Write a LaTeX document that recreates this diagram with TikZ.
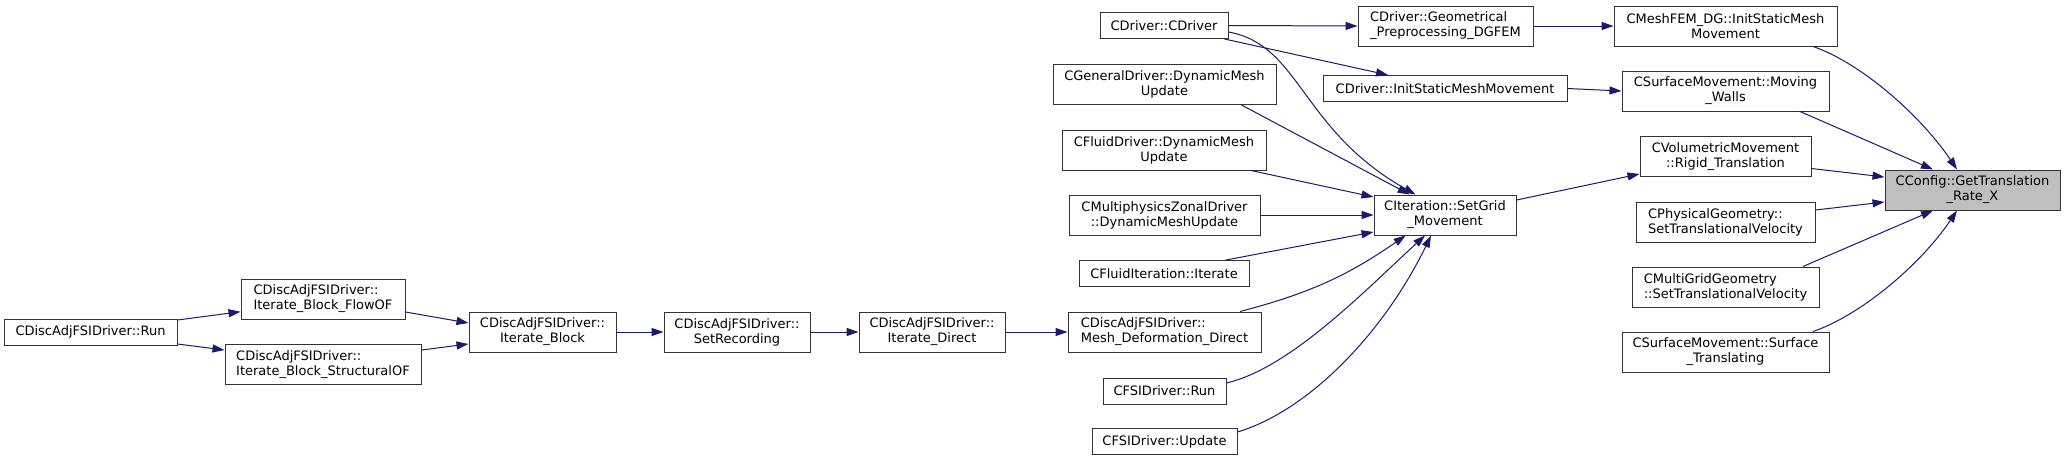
\documentclass[tikz,border=0pt]{standalone}
\usepackage{fontspec}
\setmainfont{DejaVu Sans}
\usetikzlibrary{arrows.meta}
\definecolor{edgecol}{HTML}{191970}
\definecolor{boxline}{HTML}{333333}
\definecolor{hilite}{HTML}{BFBFBF}
\begin{document}
\begin{tikzpicture}[x=1pt,y=-1pt,
  box/.style={draw=boxline, line width=1pt, fill=white, rectangle, inner sep=0pt,
    font=\fontsize{13}{15}\selectfont, text=black, align=center},
  lbox/.style={box, align=left},
  edge/.style={draw=edgecol, line width=1pt, -{Triangle[length=12pt,width=8pt]}},
]
\useasboundingbox (0,0) rectangle (2065,461);
\fill[white] (0,0) rectangle (2065,461);

% column 1-4 (left chain)
\node[box, minimum width=173pt, minimum height=26pt] (runAdj) at (90.5,332) {CDiscAdjFSIDriver::Run};
\node[lbox, minimum width=164pt, minimum height=40pt] (flowOF) at (323,299) {CDiscAdjFSIDriver::\\Iterate\_Block\_FlowOF};
\node[lbox, minimum width=196pt, minimum height=40pt] (structOF) at (323,364.5) {CDiscAdjFSIDriver::\\Iterate\_Block\_StructuralOF};
\node[box, minimum width=147pt, minimum height=40pt] (iterBlock) at (542.5,332) {CDiscAdjFSIDriver::\\Iterate\_Block};
\node[box, minimum width=146pt, minimum height=40pt] (setRec) at (737,332) {CDiscAdjFSIDriver::\\SetRecording};
\node[box, minimum width=146pt, minimum height=40pt] (iterDirect) at (932,332) {CDiscAdjFSIDriver::\\Iterate\_Direct};

% column of callers of SetGrid_Movement
\node[box, minimum width=128pt, minimum height=26pt] (cdriver) at (1164,25.5) {CDriver::CDriver};
\node[box, minimum width=223pt, minimum height=40pt] (general) at (1164.5,84.5) {CGeneralDriver::DynamicMesh\\Update};
\node[box, minimum width=204pt, minimum height=40pt] (fluidDrv) at (1164,150) {CFluidDriver::DynamicMesh\\Update};
\node[box, minimum width=191pt, minimum height=40pt] (multi) at (1164.5,215) {CMultiphysicsZonalDriver\\::DynamicMeshUpdate};
\node[box, minimum width=170pt, minimum height=26pt] (fluidIter) at (1164,273.5) {CFluidIteration::Iterate};
\node[lbox, minimum width=193pt, minimum height=40pt] (meshDef) at (1164.5,332) {CDiscAdjFSIDriver::\\Mesh\_Deformation\_Direct};
\node[box, minimum width=123pt, minimum height=26pt] (fsiRun) at (1164.5,391) {CFSIDriver::Run};
\node[box, minimum width=145pt, minimum height=26pt] (fsiUpdate) at (1164.5,441.5) {CFSIDriver::Update};

% middle column
\node[lbox, minimum width=175pt, minimum height=40pt] (geom) at (1445.5,26) {CDriver::Geometrical\\\_Preprocessing\_DGFEM};
\node[box, minimum width=244pt, minimum height=26pt] (initStatic) at (1445,88.5) {CDriver::InitStaticMeshMovement};
\node[box, minimum width=142pt, minimum height=40pt] (setGrid) at (1445,215) {CIteration::SetGrid\\\_Movement};

% right column
\node[box, minimum width=223pt, minimum height=40pt] (meshFEM) at (1725.5,26) {CMeshFEM\_DG::InitStaticMesh\\Movement};
\node[box, minimum width=207pt, minimum height=40pt] (movingWalls) at (1725.5,91) {CSurfaceMovement::Moving\\\_Walls};
\node[box, minimum width=171pt, minimum height=40pt] (volumetric) at (1725.5,156.5) {CVolumetricMovement\\::Rigid\_Translation};
\node[lbox, minimum width=179pt, minimum height=40pt] (physical) at (1725.5,222) {CPhysicalGeometry::\\SetTranslationalVelocity};
\node[lbox, minimum width=187pt, minimum height=40pt] (multigrid) at (1725.5,287) {CMultiGridGeometry\\::SetTranslationalVelocity};
\node[box, minimum width=207pt, minimum height=40pt] (surfTrans) at (1725.5,352) {CSurfaceMovement::Surface\\\_Translating};
\node[box, fill=hilite, minimum width=175pt, minimum height=40pt] (config) at (1972.5,190) {CConfig::GetTranslation\\\_Rate\_X};

% edges, left chain
\draw[edge] ([shift={(0,-12)}]runAdj.east) -- ([shift={(0,12.7)}]flowOF.west);
\draw[edge] ([shift={(0,12)}]runAdj.east) -- ([shift={(0,-14.5)}]structOF.west);
\draw[edge] ([shift={(0,13)}]flowOF.east) -- ([shift={(0,-9)}]iterBlock.west);
\draw[edge] ([shift={(0,-14.5)}]structOF.east) -- ([shift={(0,12)}]iterBlock.west);
\draw[edge] (iterBlock.east) -- (setRec.west);
\draw[edge] (setRec.east) -- (iterDirect.west);
\draw[edge] (iterDirect.east) -- (meshDef.west);

% edges into SetGrid_Movement
\draw[edge] ([shift={(75.5,0)}]meshDef.north) to[bend right=10] ([shift={(-39.4,0)}]setGrid.south);
\draw[edge] ([shift={(0,6.5)}]cdriver.east) .. controls +(72,13) and +(-115,-65) .. ([shift={(-29.5,0)}]setGrid.north);
\draw[edge] ([shift={(77,0)}]general.south) -- ([shift={(-35.4,0)}]setGrid.north);
\draw[edge] ([shift={(87,0)}]fluidDrv.south) -- ([shift={(0,-18)}]setGrid.west);
\draw[edge] (multi.east) -- (setGrid.west);
\draw[edge] ([shift={(62,0)}]fluidIter.north) -- ([shift={(0,17)}]setGrid.west);
\draw[edge] ([shift={(0,-8)}]fsiRun.east) .. controls +(64,-15) and +(-60,55) .. ([shift={(-20,0)}]setGrid.south);
\draw[edge] ([shift={(0,-9.5)}]fsiUpdate.east) .. controls +(73,-22) and +(-46,95) .. ([shift={(-14,0)}]setGrid.south);

% other edges from CDriver
\draw[edge] (cdriver.east) -- (geom.west);
\draw[edge] ([shift={(-4,0)}]cdriver.south east) -- ([shift={(-57,0)}]initStatic.north);

% middle to right
\draw[edge] (geom.east) -- (meshFEM.west);
\draw[edge] (initStatic.east) -- (movingWalls.west);
\draw[edge] ([shift={(0,-15)}]setGrid.east) -- ([shift={(0,17.5)}]volumetric.west);

% into CConfig
\draw[edge] ([shift={(87.5,0)}]meshFEM.south) .. controls +(47,16) and +(-37,-55) .. ([shift={(-15.5,0)}]config.north);
\draw[edge] ([shift={(74.5,0)}]movingWalls.south) -- ([shift={(-39.5,0)}]config.north);
\draw[edge] ([shift={(0,12)}]volumetric.east) -- ([shift={(0,-13)}]config.west);
\draw[edge] ([shift={(0,-12)}]physical.east) -- ([shift={(0,12)}]config.west);
\draw[edge] ([shift={(77.5,0)}]multigrid.north) -- ([shift={(-39.5,0)}]config.south);
\draw[edge] ([shift={(87.5,0)}]surfTrans.north) .. controls +(47,-16) and +(-37,55) .. ([shift={(-15.5,0)}]config.south);
\end{tikzpicture}
\end{document}
